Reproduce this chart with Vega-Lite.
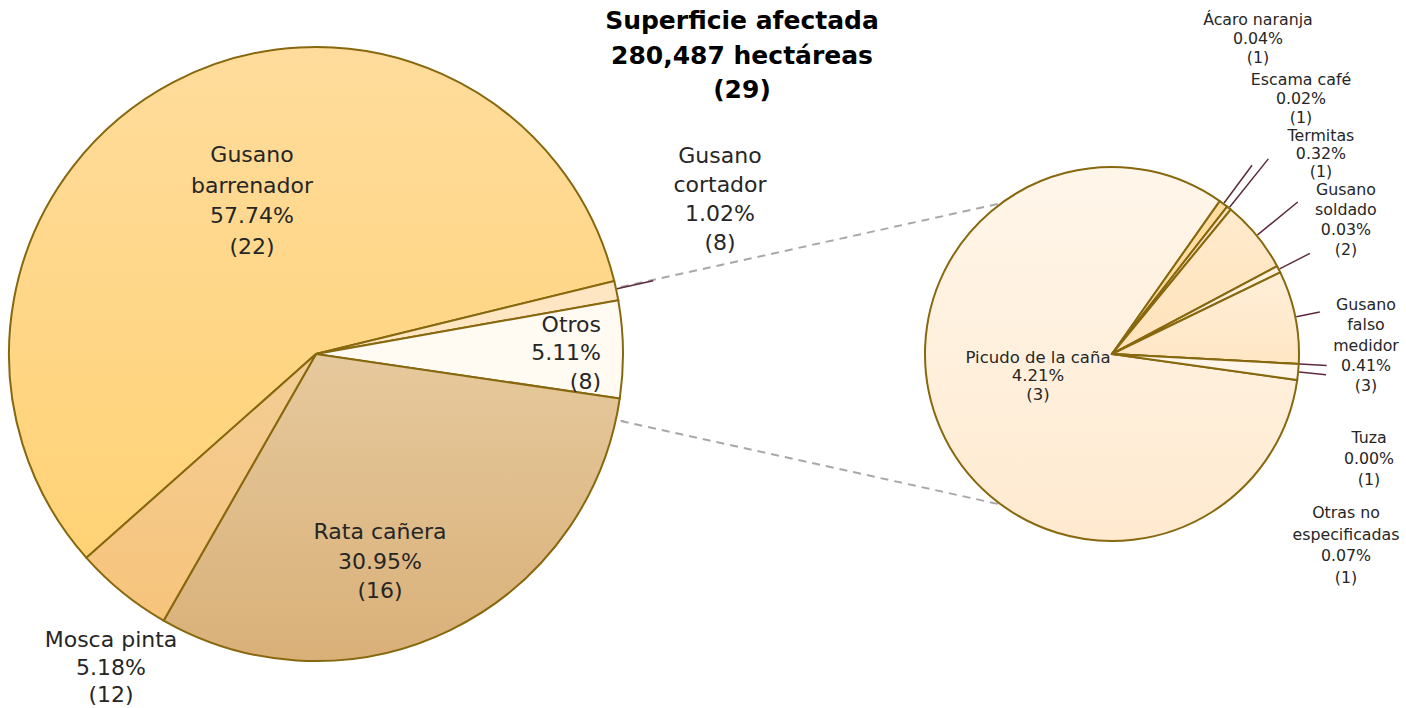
{
  "$schema": "https://vega.github.io/schema/vega-lite/v6.json",
  "width": 1406,
  "height": 708,
  "padding": 0,
  "autosize": {"type": "none"},
  "background": "#ffffff",
  "config": {
    "view": {"stroke": null},
    "text": {"font": "DejaVu Sans", "color": "#262626"}
  },
  "title": {
    "text": ["Superficie afectada", "280,487 hectáreas", "(29)"],
    "orient": "top",
    "anchor": "middle",
    "frame": "group",
    "offset": -103,
    "dx": 39,
    "font": "DejaVu Sans",
    "fontSize": 25,
    "fontWeight": "bold",
    "lineHeight": 34.5,
    "color": "#000000"
  },
  "data": {
    "values": [
      {"pie": "principal", "nombre": "Gusano barrenador", "pct": 57.74, "casos": 22, "ord": 1, "etiqueta": ["Gusano", "barrenador", "57.74%", "(22)"]},
      {"pie": "principal", "nombre": "Gusano cortador", "pct": 1.02, "casos": 8, "ord": 2, "etiqueta": ["Gusano", "cortador", "1.02%", "(8)"]},
      {"pie": "principal", "nombre": "Otros", "pct": 5.11, "casos": 8, "ord": 3, "etiqueta": ["Otros", "5.11%", "(8)"]},
      {"pie": "principal", "nombre": "Rata cañera", "pct": 30.95, "casos": 16, "ord": 4, "etiqueta": ["Rata cañera", "30.95%", "(16)"]},
      {"pie": "principal", "nombre": "Mosca pinta", "pct": 5.18, "casos": 12, "ord": 5, "etiqueta": ["Mosca pinta", "5.18%", "(12)"]},
      {"pie": "desglose", "nombre": "Picudo de la caña", "pct": 4.21, "casos": 3, "ord": 1, "etiqueta": ["Picudo de la caña", "4.21%", "(3)"]},
      {"pie": "desglose", "nombre": "Ácaro naranja", "pct": 0.04, "casos": 1, "ord": 2, "etiqueta": ["Ácaro naranja", "0.04%", "(1)"]},
      {"pie": "desglose", "nombre": "Escama café", "pct": 0.02, "casos": 1, "ord": 3, "etiqueta": ["Escama café", "0.02%", "(1)"]},
      {"pie": "desglose", "nombre": "Termitas", "pct": 0.32, "casos": 1, "ord": 4, "etiqueta": ["Termitas", "0.32%", "(1)"]},
      {"pie": "desglose", "nombre": "Gusano soldado", "pct": 0.03, "casos": 2, "ord": 5, "etiqueta": ["Gusano", "soldado", "0.03%", "(2)"]},
      {"pie": "desglose", "nombre": "Gusano falso medidor", "pct": 0.41, "casos": 3, "ord": 6, "etiqueta": ["Gusano", "falso", "medidor", "0.41%", "(3)"]},
      {"pie": "desglose", "nombre": "Tuza", "pct": 0.0, "casos": 1, "ord": 7, "etiqueta": ["Tuza", "0.00%", "(1)"]},
      {"pie": "desglose", "nombre": "Otras no especificadas", "pct": 0.07, "casos": 1, "ord": 8, "etiqueta": ["Otras no", "especificadas", "0.07%", "(1)"]}
    ]
  },
  "transform": [
    {"stack": "pct", "groupby": ["pie"], "sort": [{"field": "ord", "order": "ascending"}], "as": ["v0", "v1"]}
  ],
  "encoding": {
    "x": {"field": "pie", "type": "nominal", "scale": {"type": "point", "domain": ["principal", "desglose"], "range": [316, 1112], "padding": 0}, "axis": null}
  },
  "layer": [
    {
      "transform": [{"filter": "datum.pie === 'principal'"}],
      "encoding": {"theta": {"field": "v0", "type": "quantitative", "stack": null, "scale": {"range": [3.9863, 10.2695]}}},
      "layer": [
        {
          "mark": {"type": "arc", "outerRadius": 307, "stroke": "#87680e", "strokeWidth": 2},
          "encoding": {
            "theta": {"field": "v1", "type": "quantitative", "stack": null},
            "theta2": {"field": "v0"},
            "color": {
              "condition": [
                {"test": "datum.nombre === 'Gusano barrenador'", "value": {"gradient": "linear", "x1": 0, "y1": 0, "x2": 0, "y2": 1, "stops": [{"offset": 0, "color": "#ffdc9c"}, {"offset": 1, "color": "#ffd275"}]}},
                {"test": "datum.nombre === 'Rata cañera'", "value": {"gradient": "linear", "x1": 0, "y1": 0, "x2": 0, "y2": 1, "stops": [{"offset": 0, "color": "#e6c99d"}, {"offset": 1, "color": "#d9b078"}]}},
                {"test": "datum.nombre === 'Mosca pinta'", "value": {"gradient": "linear", "x1": 0, "y1": 0, "x2": 0, "y2": 1, "stops": [{"offset": 0, "color": "#f3cd95"}, {"offset": 1, "color": "#f7c47b"}]}}
              ],
              "field": "nombre", "type": "nominal", "legend": null,
              "scale": {"domain": ["Gusano barrenador", "Gusano cortador", "Otros", "Rata cañera", "Mosca pinta", "Picudo de la caña", "Ácaro naranja", "Escama café", "Termitas", "Gusano soldado", "Gusano falso medidor", "Tuza", "Otras no especificadas"],
                        "range": ["#ffd98d", "#ffe6c2", "#fffaf2", "#dfbc8a", "#f5c988", "#ffefdb", "#ffdca0", "#ffe6c2", "#ffe7c6", "#fff1dd", "#ffebcf", "#ffebcf", "#fff5e8"]}
            }
          }
        },
        {
          "transform": [{"filter": "datum.nombre === 'Otros'"}],
          "mark": {"type": "arc", "filled": false, "innerRadius": 309, "outerRadius": 740, "thetaOffset": -0.0408, "theta2Offset": -0.0408, "stroke": "#a8a8a8", "strokeWidth": 2, "strokeDash": [8, 6]},
          "encoding": {"theta2": {"field": "v0"}}
        },
        {
          "transform": [{"filter": "datum.nombre === 'Otros'"}],
          "mark": {"type": "arc", "filled": false, "innerRadius": 309, "outerRadius": 740, "thetaOffset": 0.071, "theta2Offset": 0.071, "stroke": "#a8a8a8", "strokeWidth": 2, "strokeDash": [8, 6]},
          "encoding": {"theta": {"field": "v1", "type": "quantitative", "stack": null}, "theta2": {"field": "v1"}}
        },
        {
          "transform": [{"filter": "datum.nombre === 'Gusano cortador'"}],
          "mark": {"type": "arc", "filled": false, "innerRadius": 308, "outerRadius": 345, "thetaOffset": 0.026, "theta2Offset": 0.026, "stroke": "#5c2b3b", "strokeWidth": 1.5},
          "encoding": {"theta2": {"field": "v0"}}
        },
        {
          "transform": [{"filter": "datum.nombre === 'Gusano barrenador'"}],
          "mark": {"type": "text", "radius": 209.0, "thetaOffset": 1.9857, "align": "center", "baseline": "middle", "fontSize": 22, "lineHeight": 30.5},
          "encoding": {"text": {"field": "etiqueta"}}
        },
        {
          "transform": [{"filter": "datum.nombre === 'Gusano cortador'"}],
          "mark": {"type": "text", "radius": 449.9, "thetaOffset": -0.2159, "align": "center", "baseline": "middle", "fontSize": 22, "lineHeight": 29},
          "encoding": {"text": {"field": "etiqueta"}}
        },
        {
          "transform": [{"filter": "datum.nombre === 'Otros'"}],
          "mark": {"type": "text", "radius": 286.5, "thetaOffset": 0.0742, "align": "right", "baseline": "middle", "fontSize": 22, "lineHeight": 28.5},
          "encoding": {"text": {"field": "etiqueta"}}
        },
        {
          "transform": [{"filter": "datum.nombre === 'Rata cañera'"}],
          "mark": {"type": "text", "radius": 189.2, "thetaOffset": 1.0802, "align": "center", "baseline": "middle", "fontSize": 22, "lineHeight": 29.5},
          "encoding": {"text": {"field": "etiqueta"}}
        },
        {
          "transform": [{"filter": "datum.nombre === 'Mosca pinta'"}],
          "mark": {"type": "text", "radius": 351.9, "thetaOffset": 0.1026, "align": "center", "baseline": "middle", "fontSize": 22, "lineHeight": 27.5},
          "encoding": {"text": {"field": "etiqueta"}}
        }
      ]
    },
    {
      "transform": [{"filter": "datum.pie === 'desglose'"}],
      "encoding": {"theta": {"field": "v0", "type": "quantitative", "stack": null, "scale": {"range": [1.7104, 7.9936]}}},
      "layer": [
        {
          "mark": {"type": "arc", "outerRadius": 187, "stroke": "#87680e", "strokeWidth": 2},
          "encoding": {
            "theta": {"field": "v1", "type": "quantitative", "stack": null},
            "theta2": {"field": "v0"},
            "color": {
              "condition": [
                {"test": "datum.nombre === 'Picudo de la caña'", "value": {"gradient": "linear", "x1": 0, "y1": 0, "x2": 0, "y2": 1, "stops": [{"offset": 0, "color": "#fff6ea"}, {"offset": 1, "color": "#ffead0"}]}},
                {"test": "datum.nombre === 'Termitas'", "value": {"gradient": "linear", "x1": 0, "y1": 0, "x2": 0, "y2": 1, "stops": [{"offset": 0, "color": "#ffeacd"}, {"offset": 1, "color": "#ffe3ba"}]}},
                {"test": "datum.nombre === 'Gusano falso medidor'", "value": {"gradient": "linear", "x1": 0, "y1": 0, "x2": 0, "y2": 1, "stops": [{"offset": 0, "color": "#ffefd9"}, {"offset": 1, "color": "#ffe6c4"}]}}
              ],
              "field": "nombre", "type": "nominal", "legend": null,
              "scale": {"domain": ["Gusano barrenador", "Gusano cortador", "Otros", "Rata cañera", "Mosca pinta", "Picudo de la caña", "Ácaro naranja", "Escama café", "Termitas", "Gusano soldado", "Gusano falso medidor", "Tuza", "Otras no especificadas"],
                        "range": ["#ffd98d", "#ffe6c2", "#fffaf2", "#dfbc8a", "#f5c988", "#ffefdb", "#ffdca0", "#ffe6c2", "#ffe7c6", "#fff1dd", "#ffebcf", "#ffebcf", "#fff5e8"]}
            }
          }
        },
        {
          "transform": [{"filter": "datum.nombre === 'Ácaro naranja'"}],
          "mark": {"type": "arc", "filled": false, "innerRadius": 188, "outerRadius": 235, "thetaOffset": 0.0246, "theta2Offset": 0.0246, "stroke": "#5c2b3b", "strokeWidth": 1.5},
          "encoding": {"theta2": {"field": "v0"}}
        },
        {
          "transform": [{"filter": "datum.nombre === 'Escama café'"}],
          "mark": {"type": "arc", "filled": false, "innerRadius": 188, "outerRadius": 250, "thetaOffset": 0.0123, "theta2Offset": 0.0123, "stroke": "#5c2b3b", "strokeWidth": 1.5},
          "encoding": {"theta2": {"field": "v0"}}
        },
        {
          "transform": [{"filter": "datum.nombre === 'Termitas'"}],
          "mark": {"type": "arc", "filled": false, "innerRadius": 188, "outerRadius": 240, "thetaOffset": 0.1971, "theta2Offset": 0.1971, "stroke": "#5c2b3b", "strokeWidth": 1.5},
          "encoding": {"theta2": {"field": "v0"}}
        },
        {
          "transform": [{"filter": "datum.nombre === 'Gusano soldado'"}],
          "mark": {"type": "arc", "filled": false, "innerRadius": 188, "outerRadius": 222, "thetaOffset": 0.0185, "theta2Offset": 0.0185, "stroke": "#5c2b3b", "strokeWidth": 1.5},
          "encoding": {"theta2": {"field": "v0"}}
        },
        {
          "transform": [{"filter": "datum.nombre === 'Gusano falso medidor'"}],
          "mark": {"type": "arc", "filled": false, "innerRadius": 188, "outerRadius": 212, "thetaOffset": 0.2525, "theta2Offset": 0.2525, "stroke": "#5c2b3b", "strokeWidth": 1.5},
          "encoding": {"theta2": {"field": "v0"}}
        },
        {
          "transform": [{"filter": "datum.nombre === 'Tuza'"}],
          "mark": {"type": "arc", "filled": false, "innerRadius": 188, "outerRadius": 215, "stroke": "#5c2b3b", "strokeWidth": 1.5},
          "encoding": {"theta2": {"field": "v0"}}
        },
        {
          "transform": [{"filter": "datum.nombre === 'Otras no especificadas'"}],
          "mark": {"type": "arc", "filled": false, "innerRadius": 188, "outerRadius": 215, "thetaOffset": 0.0431, "theta2Offset": 0.0431, "stroke": "#5c2b3b", "strokeWidth": 1.5},
          "encoding": {"theta2": {"field": "v0"}}
        },
        {
          "transform": [{"filter": "datum.nombre === 'Picudo de la caña'"}],
          "mark": {"type": "text", "radius": 74.1, "thetaOffset": 2.948, "align": "center", "baseline": "middle", "fontSize": 16.5, "lineHeight": 18.5},
          "encoding": {"text": {"field": "etiqueta"}}
        },
        {
          "transform": [{"filter": "datum.nombre === 'Ácaro naranja'"}],
          "mark": {"type": "text", "radius": 364.5, "thetaOffset": -0.2019, "align": "center", "baseline": "middle", "fontSize": 15.8, "lineHeight": 19},
          "encoding": {"text": {"field": "etiqueta"}}
        },
        {
          "transform": [{"filter": "datum.nombre === 'Escama café'"}],
          "mark": {"type": "text", "radius": 332.9, "thetaOffset": -0.0594, "align": "center", "baseline": "middle", "fontSize": 15.8, "lineHeight": 19},
          "encoding": {"text": {"field": "etiqueta"}}
        },
        {
          "transform": [{"filter": "datum.nombre === 'Termitas'"}],
          "mark": {"type": "text", "radius": 302.0, "thetaOffset": 0.0763, "align": "center", "baseline": "middle", "fontSize": 15.8, "lineHeight": 18},
          "encoding": {"text": {"field": "etiqueta"}}
        },
        {
          "transform": [{"filter": "datum.nombre === 'Gusano soldado'"}],
          "mark": {"type": "text", "radius": 285.7, "thetaOffset": -0.1227, "align": "center", "baseline": "middle", "fontSize": 15.8, "lineHeight": 20},
          "encoding": {"text": {"field": "etiqueta"}}
        },
        {
          "transform": [{"filter": "datum.nombre === 'Gusano falso medidor'"}],
          "mark": {"type": "text", "radius": 258.7, "thetaOffset": 0.2611, "align": "center", "baseline": "middle", "fontSize": 15.8, "lineHeight": 20.3},
          "encoding": {"text": {"field": "etiqueta"}}
        },
        {
          "transform": [{"filter": "datum.nombre === 'Tuza'"}],
          "mark": {"type": "text", "radius": 270.4, "thetaOffset": 0.2625, "align": "center", "baseline": "middle", "fontSize": 15.8, "lineHeight": 21},
          "encoding": {"text": {"field": "etiqueta"}}
        },
        {
          "transform": [{"filter": "datum.nombre === 'Otras no especificadas'"}],
          "mark": {"type": "text", "radius": 282.9, "thetaOffset": 0.5435, "align": "center", "baseline": "middle", "fontSize": 15.8, "lineHeight": 21.5},
          "encoding": {"text": {"field": "etiqueta"}}
        }
      ]
    }
  ],
  "resolve": {"scale": {"theta": "independent"}}
}
